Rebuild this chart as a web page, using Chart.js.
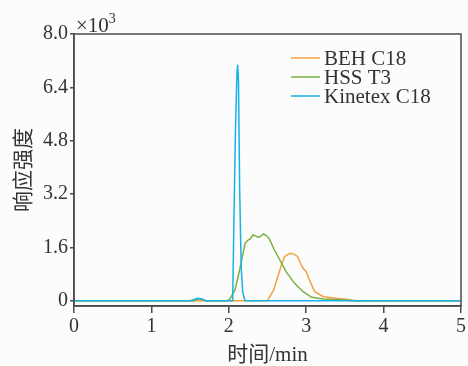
<!DOCTYPE html>
<html>
<head>
<meta charset="utf-8">
<script src="https://cdn.jsdelivr.net/npm/chart.js@4/dist/chart.umd.min.js"></script>
<style>
  html, body { margin: 0; padding: 0; background: #fcfcfc; }
  #wrap { width: 468px; height: 366px; }
</style>
</head>
<body>
<div id="wrap"><canvas id="chrom" width="468" height="366"></canvas></div>
<script>
// series names and colours
const seriesNames = ["BEH C18", "HSS T3", "Kinetex C18"];
const seriesColors = ["#f5a040", "#78b043", "#18b2ea"];

// retention time (min) / response (x10^3)
const behTime = [0, 2.1, 2.5, 2.58, 2.64, 2.68, 2.72, 2.76, 2.79, 2.85, 2.89, 2.93, 2.96, 3.0, 3.05, 3.11, 3.22, 3.39, 3.52, 3.65, 5];
const behValues = [0, 0, 0, 0.32, 0.77, 1.07, 1.32, 1.38, 1.42, 1.39, 1.32, 1.1, 0.97, 0.87, 0.57, 0.27, 0.12, 0.07, 0.04, 0, 0];

const hssTime = [0, 1.55, 1.6, 1.65, 1.7, 1.98, 2.01, 2.08, 2.14, 2.21, 2.25, 2.28, 2.31, 2.34, 2.38, 2.41, 2.45, 2.48, 2.52, 2.59, 2.66, 2.74, 2.85, 2.96, 3.07, 3.22, 3.43, 3.6, 5];
const hssValues = [0, 0, 0.05, 0.06, 0, 0, 0.04, 0.32, 0.92, 1.72, 1.82, 1.86, 1.97, 1.95, 1.9, 1.93, 2.0, 1.96, 1.87, 1.52, 1.22, 0.87, 0.52, 0.27, 0.1, 0.05, 0.03, 0, 0];

const kinTime = [0, 1.5, 1.56, 1.6, 1.64, 1.7, 2.05, 2.065, 2.085, 2.105, 2.115, 2.125, 2.14, 2.16, 2.18, 2.21, 5];
const kinValues = [0, 0, 0.04, 0.07, 0.05, 0, 0, 2.2, 5.0, 6.8, 7.08, 6.6, 3.4, 1.0, 0.25, 0, 0];

const yTicks = [0, 1.6, 3.2, 4.8, 6.4, 8.0];
const xTicks = [0, 1, 2, 3, 4, 5];

const toPoints = (xs, ys) => xs.map((x, i) => ({ x: x, y: ys[i] }));
const seriesData = [toPoints(behTime, behValues), toPoints(hssTime, hssValues), toPoints(kinTime, kinValues)];

const axisColor = "#4a4a4a";
const serif = "'Liberation Serif', 'Times New Roman', serif";
const cjk = "'Liberation Serif', 'Noto Sans CJK SC', serif";

// frame, x10^3 note and legend
const extras = {
	id: "extras",
	afterDraw(chart) {
		const { ctx, chartArea: a } = chart;
		ctx.save();
		ctx.strokeStyle = axisColor;
		ctx.lineWidth = 1.5;
		ctx.strokeRect(a.left, a.top, a.right - a.left, a.bottom - a.top);

		ctx.fillStyle = "#333";
		ctx.textBaseline = "alphabetic";
		ctx.textAlign = "left";
		ctx.font = "21px " + serif;
		ctx.fillText("×10", a.left + 2, a.top - 2.5);
		const w = ctx.measureText("×10").width;
		ctx.font = "14px " + serif;
		ctx.fillText("3", a.left + 2 + w, a.top - 11);

		ctx.font = "21px " + serif;
		ctx.textBaseline = "middle";
		const rows = [58, 77, 96];
		seriesNames.forEach((name, i) => {
			ctx.strokeStyle = seriesColors[i];
			ctx.lineWidth = 1.5;
			ctx.beginPath();
			ctx.moveTo(291, rows[i]);
			ctx.lineTo(320, rows[i]);
			ctx.stroke();
			ctx.fillStyle = "#333";
			ctx.fillText(name, 324, rows[i] + 1);
		});
		ctx.restore();
	},
};

new Chart(document.getElementById("chrom"), {
	type: "line",
	data: {
		datasets: seriesData.map((pts, i) => ({
			label: seriesNames[i],
			data: pts,
			borderColor: seriesColors[i],
			borderWidth: 1.5,
			pointRadius: 0,
			tension: 0,
			fill: false,
			order: 2 - i,
		})),
	},
	options: {
		responsive: false,
		animation: false,
		layout: { padding: { left: 12, right: 6, top: 34, bottom: 0 } },
		plugins: { legend: { display: false }, tooltip: { enabled: false } },
		scales: {
			x: {
				type: "linear",
				min: 0,
				max: 5,
				afterBuildTicks: axis => { axis.ticks = xTicks.map(v => ({ value: v })); },
				afterFit: axis => { axis.height = 60; },
				grid: { drawOnChartArea: false, tickLength: 7, color: axisColor, lineWidth: 1.5 },
				border: { color: axisColor, width: 1.5 },
				ticks: { color: "#333", font: { family: serif, size: 20 }, padding: 2 },
				title: {
					display: true,
					text: "时间/min",
					color: "#333",
					font: { family: cjk, size: 21, lineHeight: 1 },
					padding: { top: 0, bottom: 0 },
				},
			},
			y: {
				type: "linear",
				min: -0.16,
				max: 8.0,
				afterBuildTicks: axis => { axis.ticks = yTicks.map(v => ({ value: v })); },
				afterFit: axis => { axis.width = 62; },
				grid: { drawOnChartArea: false, tickLength: 4, color: axisColor, lineWidth: 1.5 },
				border: { color: axisColor, width: 1.5 },
				ticks: {
					color: "#333",
					font: { family: serif, size: 20 },
					padding: 2,
					callback: v => (v === 0 ? "0" : v.toFixed(1)),
				},
				title: {
					display: true,
					text: "响应强度",
					color: "#333",
					font: { family: cjk, size: 21 },
					padding: { top: 0, bottom: 0 },
				},
			},
		},
	},
	plugins: [extras],
});
</script>
</body>
</html>
